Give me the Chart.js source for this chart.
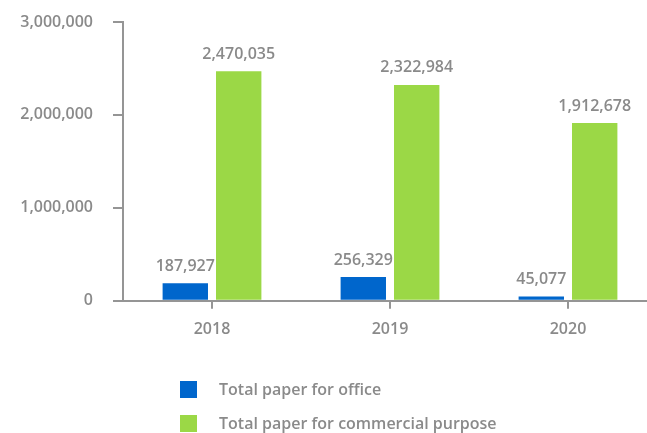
<!DOCTYPE html>
<html>
<head>
<meta charset="utf-8">
<script src="https://cdn.jsdelivr.net/npm/chart.js@4/dist/chart.umd.min.js"></script>
<style>
  html, body { margin: 0; padding: 0; background: #fff; overflow: hidden; }
  #wrap { position: relative; width: 647px; height: 433px; overflow: hidden; }
  #c { display: block; }
  #legend { position: absolute; left: 180px; top: 379px; font-family: "Open Sans", sans-serif; font-weight: 600; font-size: 16px; color: #8a8a8a; }
  .li { display: flex; align-items: center; height: 20px; margin-bottom: 14px; }
  .sw { width: 17px; height: 17px; margin-right: 22px; }
</style>
</head>
<body>
<div id="wrap">
  <canvas id="c" width="657" height="433"></canvas>
  <div id="legend"></div>
</div>
<script>
const categories = ["2018", "2019", "2020"];
const officePaper = [187927, 256329, 45077];
const commercialPaper = [2470035, 2322984, 1912678];
const seriesNames = ["Total paper for office", "Total paper for commercial purpose"];
const yTicks = [0, 1000000, 2000000, 3000000];

const gray = "#8a8a8a";
const axisGray = "#959595";
const fontFamily = "'Open Sans', sans-serif";

const valueLabels = {
  id: "valueLabels",
  afterDatasetsDraw(chart) {
    const ctx = chart.ctx;
    ctx.save();
    ctx.font = "600 16px " + fontFamily;
    ctx.fillStyle = gray;
    ctx.textAlign = "center";
    ctx.textBaseline = "bottom";
    chart.data.datasets.forEach((ds, i) => {
      chart.getDatasetMeta(i).data.forEach((bar, j) => {
        ctx.fillText(ds.data[j].toLocaleString("en-US"), bar.x, bar.y - 9);
      });
    });
    ctx.restore();
  }
};

const chart = new Chart(document.getElementById("c"), {
  type: "bar",
  data: {
    labels: categories,
    datasets: [
      { label: seriesNames[0], data: officePaper, backgroundColor: "#0066cc", barPercentage: 0.85, categoryPercentage: 0.6 },
      { label: seriesNames[1], data: commercialPaper, backgroundColor: "#9bd846", barPercentage: 0.85, categoryPercentage: 0.6 }
    ]
  },
  options: {
    responsive: false,
    animation: false,
    devicePixelRatio: 1,
    layout: { padding: { left: 12, right: 0, top: 22, bottom: 83 } },
    plugins: { legend: { display: false }, tooltip: { enabled: false } },
    scales: {
      x: {
        afterFit(axis) { axis.paddingLeft = 0; axis.paddingRight = 0; },
        grid: { display: true, drawOnChartArea: false, offset: false, tickLength: 8, color: axisGray, lineWidth: 2 },
        border: { color: axisGray, width: 2 },
        ticks: { color: gray, font: { family: fontFamily, size: 16, weight: 600 }, padding: 11 }
      },
      y: {
        min: 0, max: 3000000,
        afterBuildTicks(axis) { axis.ticks = yTicks.map(v => ({ value: v })); },
        afterFit(axis) { axis.width = 111; axis.paddingTop = 0; axis.paddingBottom = 0; },
        grid: { display: true, drawOnChartArea: false, tickLength: 10, color: axisGray, lineWidth: 2 },
        border: { color: axisGray, width: 2 },
        ticks: { color: gray, font: { family: fontFamily, size: 16, weight: 600 }, padding: 20,
                 callback: v => Number(v).toLocaleString("en-US") }
      }
    }
  },
  plugins: [valueLabels]
});

const legend = document.getElementById("legend");
chart.data.datasets.forEach(ds => {
  const row = document.createElement("div");
  row.className = "li";
  const sw = document.createElement("span");
  sw.className = "sw";
  sw.style.background = ds.backgroundColor;
  const t = document.createElement("span");
  t.textContent = ds.label;
  row.appendChild(sw); row.appendChild(t);
  legend.appendChild(row);
});
</script>
</body>
</html>
